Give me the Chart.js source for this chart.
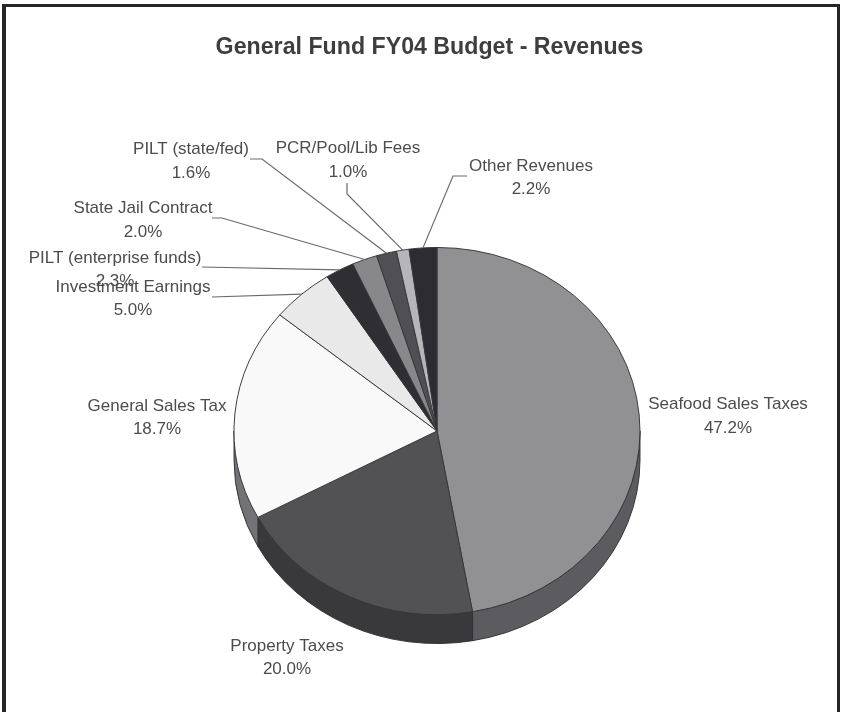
<!DOCTYPE html>
<html>
<head>
<meta charset="utf-8">
<title>General Fund FY04 Budget - Revenues</title>
<script src="https://cdn.jsdelivr.net/npm/chart.js@4"></script>
<style>
    html, body { margin: 0; background: #fff; }
    #frame {
        position: absolute; left: 2px; top: 4px; width: 838px; height: 708px;
        box-sizing: border-box;
        border: solid #262628; border-width: 3px 3px 0 4px;
    }
    #wrap { position: absolute; left: 0; top: 0; width: 843px; height: 712px; }
</style>
</head>
<body>
<div id="frame"></div>
<div id="wrap"><canvas id="budgetChart" width="843" height="712"></canvas></div>
<script>
const chartTitle = 'General Fund FY04 Budget - Revenues';
const categories = [
    'Seafood Sales Taxes', 'Property Taxes', 'General Sales Tax', 'Investment Earnings',
    'PILT (enterprise funds)', 'State Jail Contract', 'PILT (state/fed)', 'PCR/Pool/Lib Fees', 'Other Revenues'
];
const percents = [47.2, 20.0, 18.7, 5.0, 2.3, 2.0, 1.6, 1.0, 2.2];

// slice colours, top face and rim
const faceColors = ['#919194', '#525255', '#f9f9f9', '#e9e9ea', '#2e2e33', '#88888b', '#505054', '#b6b6ba', '#2c2c32'];
const rimColors = ['#5c5c60', '#39393c', '#737377', '#737377', '#222', '#555', '#333', '#777', '#222'];

// where each label sits: centre x, first line y, second line y
const labelSpots = [
    [728, 404, 428], [287, 646, 669], [157, 406, 429], [133, 287, 310],
    [115, 258, 281], [143, 208, 232], [191, 149, 173], [348, 148, 172], [531, 166, 189]
];
// leader line start points, the line then runs on to the slice edge
const leaderPaths = [
    null, null, null,
    [[212, 297]],
    [[202, 267]],
    [[212, 218], [222, 218]],
    [[250, 159], [262, 159]],
    [[347, 183], [347, 194]],
    [[467, 176], [453, 176]]
];

const squash = 184 / 203.5;  // tilt of the disc
const depth = 29;            // rim height in px
const shiftX = 7.5;          // disc sits right of the title centre

function tilt(ctx, arc) {
    ctx.translate(arc.x + shiftX, arc.y);
    ctx.scale(1, squash);
    ctx.translate(-arc.x, -arc.y);
}

const pie3d = {
    id: 'pie3d',
    beforeDatasetsDraw(chart) {
        const ctx = chart.ctx;
        const arcs = chart.getDatasetMeta(0).data;
        ctx.save();
        tilt(ctx, arcs[0]);
        const d = depth / squash;
        arcs.forEach((arc, i) => {
            // only the front half of the rim can be seen
            const a0 = Math.max(arc.startAngle, 0);
            const a1 = Math.min(arc.endAngle, Math.PI);
            if (a1 <= a0) return;
            ctx.beginPath();
            ctx.arc(arc.x, arc.y, arc.outerRadius, a0, a1);
            ctx.arc(arc.x, arc.y + d, arc.outerRadius, a1, a0, true);
            ctx.closePath();
            ctx.fillStyle = rimColors[i];
            ctx.fill();
            ctx.lineWidth = 1;
            ctx.strokeStyle = '#333336';
            ctx.stroke();
        });
        ctx.restore();
        // the slices themselves get the same tilt
        ctx.save();
        tilt(ctx, arcs[0]);
    },
    afterDatasetsDraw(chart) {
        const ctx = chart.ctx;
        ctx.restore();
        const arcs = chart.getDatasetMeta(0).data;

        // leader lines
        ctx.save();
        ctx.strokeStyle = '#6a6a6c';
        ctx.lineWidth = 1.2;
        arcs.forEach((arc, i) => {
            const path = leaderPaths[i];
            if (!path) return;
            const mid = (arc.startAngle + arc.endAngle) / 2;
            const endX = arc.x + shiftX + arc.outerRadius * Math.cos(mid);
            const endY = arc.y + arc.outerRadius * squash * Math.sin(mid);
            ctx.beginPath();
            path.forEach((p, k) => k ? ctx.lineTo(p[0], p[1]) : ctx.moveTo(p[0], p[1]));
            ctx.lineTo(endX, endY);
            ctx.stroke();
        });
        ctx.restore();

        // labels, later ones print over earlier ones
        ctx.save();
        ctx.font = '17px "Liberation Sans", Arial, sans-serif';
        ctx.fillStyle = '#4c4c4e';
        ctx.textAlign = 'center';
        ctx.textBaseline = 'middle';
        [4, 3, 5, 6, 7, 8, 2, 1, 0].forEach(i => {
            const spot = labelSpots[i];
            ctx.fillText(categories[i], spot[0], spot[1]);
            ctx.fillText(percents[i].toFixed(1) + '%', spot[0], spot[2]);
        });
        ctx.restore();
    }
};

new Chart(document.getElementById('budgetChart'), {
    type: 'pie',
    data: {
        labels: categories,
        datasets: [{
            data: percents,
            backgroundColor: faceColors,
            borderColor: '#363639',
            borderWidth: 1,
            borderAlign: 'center'
        }]
    },
    options: {
        responsive: false,
        animation: false,
        // wide enough for the title, the disc radius is set by the height
        layout: { padding: { left: 206, right: 190, top: 33.5, bottom: 77.5 } },
        plugins: {
            legend: { display: false },
            tooltip: { enabled: false },
            title: {
                display: true,
                text: chartTitle,
                color: '#3e3e40',
                font: { family: '"Liberation Sans", Arial, sans-serif', size: 23.2, weight: 'bold', lineHeight: 1.2 },
                padding: { top: 0, bottom: 166.16 }
            }
        }
    },
    plugins: [pie3d]
});
</script>
</body>
</html>
